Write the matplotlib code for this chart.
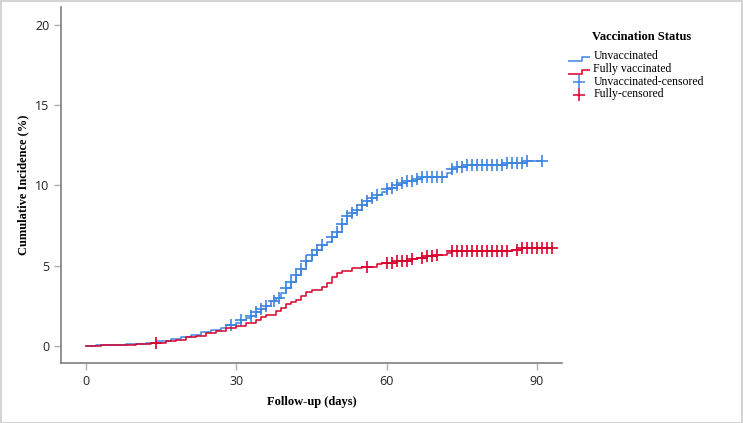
import numpy as np
import matplotlib
matplotlib.use("Agg")
import matplotlib.pyplot as plt
from matplotlib.lines import Line2D
from matplotlib.path import Path
from matplotlib.patches import Rectangle

# curva acumulada: dia del evento -> incidencia (%) despues del escalon
unvacc_days = [0, 2, 5, 8, 12, 14, 17, 19, 21, 23, 25, 27, 28, 30, 31, 32, 33, 34, 35, 36,
               37, 38, 39, 40, 41, 42, 43, 44, 45, 46, 47, 48, 49, 50, 51, 52, 53, 54, 55,
               56, 57, 58, 59, 60, 61, 62, 63, 64, 66, 67, 72, 73, 74, 76, 79, 84, 88]
unvacc_inc = [0, 0.05, 0.1, 0.15, 0.2, 0.35, 0.45, 0.55, 0.7, 0.85, 1.0, 1.15, 1.3, 1.45,
              1.6, 1.75, 1.9, 2.1, 2.3, 2.5, 2.8, 3.0, 3.3, 3.6, 4.0, 4.4, 4.8, 5.3, 5.7,
              6.0, 6.3, 6.5, 6.8, 7.1, 7.6, 8.1, 8.3, 8.5, 8.8, 9.0, 9.2, 9.4, 9.6, 9.75,
              9.85, 10.0, 10.15, 10.25, 10.4, 10.55, 10.75, 11.0, 11.15, 11.25, 11.3, 11.4, 11.5]
unvacc_end = 91

full_days = [0, 3, 6, 10, 13, 16, 18, 20, 22, 24, 26, 28, 30, 32, 34, 35, 36, 38, 39, 40,
             41, 42, 43, 44, 45, 47, 48, 49, 50, 51, 53, 55, 58, 59, 62, 65, 66, 68, 70,
             72, 73, 80, 85, 87]
full_inc = [0, 0.05, 0.1, 0.15, 0.2, 0.3, 0.4, 0.55, 0.65, 0.8, 0.95, 1.1, 1.25, 1.45,
            1.65, 1.8, 1.95, 2.2, 2.4, 2.6, 2.75, 2.9, 3.1, 3.35, 3.5, 3.7, 3.9, 4.3, 4.55,
            4.7, 4.85, 4.95, 5.1, 5.2, 5.3, 5.4, 5.5, 5.6, 5.7, 5.8, 5.9, 5.95, 6.0, 6.1]
full_end = 93

# dias de censura
unvacc_cens = [29, 31, 33, 34, 35, 36, 37.5, 38.5, 40, 41, 42, 43, 44, 45, 46, 47, 49, 50,
               51, 52, 53, 54, 55, 56, 57, 58, 60, 61, 62, 63, 64, 65, 66, 67, 68, 69, 70,
               71, 73, 74, 75, 76, 77, 78, 79, 80, 81, 82, 83, 84, 85, 86, 87, 88, 91]
full_cens = [14, 56, 60, 61, 62, 63, 64, 65, 67, 68, 69, 70, 73, 74, 75, 76, 77, 78, 79,
             80, 81, 82, 83, 84, 86, 87, 88, 89, 90, 91, 92, 93]

x_ticks = [0, 30, 60, 90]
y_ticks = [0, 5, 10, 15, 20]

BLUE = "#3d85e0"
RED = "#d9002b"
GRAY = "#808080"


def step_value(days, inc, t):
    i = np.searchsorted(days, t, side="right") - 1
    return np.asarray(inc)[i]


fig = plt.figure(figsize=(7.43, 4.23), dpi=100)
ax = fig.add_axes([0.0821, 0.1418, 0.6743, 0.8417])

for days, inc, end, cens, col in [(unvacc_days, unvacc_inc, unvacc_end, unvacc_cens, BLUE),
                                  (full_days, full_inc, full_end, full_cens, RED)]:
    xs = list(days) + [end]
    ys = list(inc) + [inc[-1]]
    ax.step(xs, ys, where="post", color=col, lw=1.1)
    cy = [step_value(days, inc, t) for t in cens]
    ax.plot(cens, cy, linestyle="none", marker="+", color=col, ms=8, mew=1.2)

ax.set_xlim(-5, 95)
ax.set_ylim(-1.05, 21.1)
ax.set_xticks(x_ticks)
ax.set_yticks(y_ticks)
for s in ["top", "right"]:
    ax.spines[s].set_visible(False)
for s in ["left", "bottom"]:
    ax.spines[s].set_color(GRAY)
    ax.spines[s].set_linewidth(1.2)
ax.tick_params(direction="out", color="#b0b0b0", length=5, width=1,
               labelsize=9, labelcolor="#222222")
for lab in ax.get_xticklabels() + ax.get_yticklabels():
    lab.set_family("Open Sans")

ax.set_xlabel("Follow-up (days)", family="Liberation Serif", fontweight="bold",
              fontsize=9, labelpad=6)
ax.set_ylabel("Cumulative Incidence (%)", family="Liberation Serif", fontweight="bold",
              fontsize=9, labelpad=4)

# simbolos de la leyenda: escalon bajo y una cruz algo desplazada hacia abajo
step_marker = Path([(-1, -0.55), (0.3, -0.55), (0.3, -0.15), (1, -0.15)],
                   [Path.MOVETO, Path.LINETO, Path.LINETO, Path.LINETO])
plus_marker = Path([(-0.8, -0.2), (0.8, -0.2), (0, -1), (0, 0.6)],
                   [Path.MOVETO, Path.LINETO, Path.MOVETO, Path.LINETO])
handles = [
    Line2D([], [], linestyle="none", marker=step_marker, ms=16, mfc="none", mec=BLUE, mew=1.1),
    Line2D([], [], linestyle="none", marker=step_marker, ms=16, mfc="none", mec=RED, mew=1.1),
    Line2D([], [], linestyle="none", marker=plus_marker, ms=11, mfc="none", mec=BLUE, mew=1.1),
    Line2D([], [], linestyle="none", marker=plus_marker, ms=11, mfc="none", mec=RED, mew=1.1),
]
labels = ["Unvaccinated", "Fully vaccinated", "Unvaccinated-censored", "Fully-censored"]
fig.text(642 / 743, 1 - 37 / 423, "Vaccination Status", ha="center", va="center",
         family="Liberation Serif", fontweight="bold", fontsize=9)
fig.legend(handles, labels, loc="upper left", bbox_to_anchor=(0.754, 0.906),
           frameon=False, handlelength=1.3, handletextpad=0.6, labelspacing=0.05,
           prop={"family": "Liberation Serif", "size": 8.5})

fig.patches.append(Rectangle((0.001, 0.001), 0.997, 0.997, transform=fig.transFigure,
                             fill=False, edgecolor="#d4d4d4", lw=1.5))

fig.savefig("out.png", dpi=100)
